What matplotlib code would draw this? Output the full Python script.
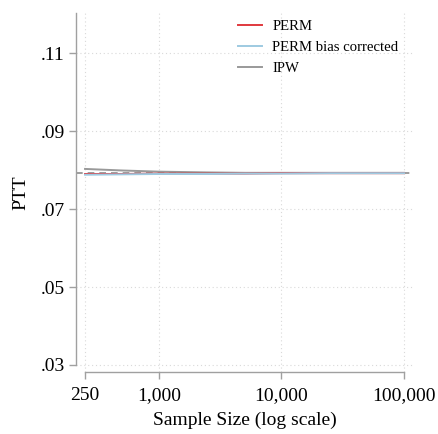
import matplotlib
matplotlib.use("Agg")
import matplotlib.pyplot as plt
from matplotlib.ticker import FixedLocator, FixedFormatter, NullLocator

plt.rcParams['font.family'] = ['Liberation Serif', 'DejaVu Serif']

sample_sizes = [250, 500, 1000, 2500, 5000, 10000, 25000, 50000, 100000]
perm = [0.0790, 0.0790, 0.0791, 0.0791, 0.0791, 0.0792, 0.0792, 0.0792, 0.0792]
perm_bc = [0.0788, 0.0789, 0.0790, 0.0790, 0.0791, 0.0791, 0.0792, 0.0792, 0.0792]
ipw = [0.0803, 0.0799, 0.0796, 0.0794, 0.0793, 0.0793, 0.0793, 0.0793, 0.0793]
true_value = 0.0793

x_ticks = [250, 1000, 10000, 100000]
x_labels = ["250", "1,000", "10,000", "100,000"]
y_ticks = [0.03, 0.05, 0.07, 0.09, 0.11]
y_labels = [".03", ".05", ".07", ".09", ".11"]

fig = plt.figure(figsize=(4.38, 4.34), dpi=100)
W, H = 438, 434
ax = fig.add_axes([76 / W, (H - 372) / H, (413 - 76) / W, (372 - 13) / H])

ax.set_xscale('log')
ax.set_xlim(211, 118300)
ax.set_ylim(0.0282, 0.1203)

grid_kw = dict(color='#d9d9d9', linestyle=(0, (1, 2.5)), linewidth=0.8, zorder=0)
for xv in x_ticks:
    ax.axvline(xv, **grid_kw)
for yv in y_ticks:
    ax.axhline(yv, **grid_kw)

ax.axhline(true_value, color='#8c8c8c', linestyle=(0, (4, 3)), linewidth=1.2, zorder=1)
ax.plot(sample_sizes, ipw, color='#999999', linewidth=1.4, label='IPW', zorder=2)
ax.plot(sample_sizes, perm_bc, color='#9ecae1', linewidth=1.4, label='PERM bias corrected', zorder=3)
ax.plot(sample_sizes, perm, color='#e0393e', linewidth=1.4, label='PERM', zorder=2.5)

for s in ['top', 'right']:
    ax.spines[s].set_visible(False)
for s in ['left', 'bottom']:
    ax.spines[s].set_color('#a0a0a0')
    ax.spines[s].set_linewidth(1.0)
ax.spines['left'].set_bounds(0.03, 0.1203)
ax.spines['bottom'].set_bounds(250, 100000)

ax.xaxis.set_major_locator(FixedLocator(x_ticks))
ax.xaxis.set_major_formatter(FixedFormatter(x_labels))
ax.xaxis.set_minor_locator(NullLocator())
ax.yaxis.set_major_locator(FixedLocator(y_ticks))
ax.yaxis.set_major_formatter(FixedFormatter(y_labels))
ax.tick_params(axis='both', which='major', direction='out', length=5, width=1.0,
               color='#a0a0a0', labelsize=14, labelcolor='black', pad=3)
ax.tick_params(axis='x', pad=6)

ax.set_xlabel('Sample Size (log scale)', fontsize=14, labelpad=5)
ax.set_ylabel('PTT', fontsize=14, labelpad=8)

handles, labels = ax.get_legend_handles_labels()
order = [2, 1, 0]
ax.legend([handles[i] for i in order], [labels[i] for i in order],
          loc='upper left', bbox_to_anchor=((229.5 - 76) / (413 - 76), 1.005), frameon=False,
          fontsize=10.6, handlelength=1.6, handletextpad=0.7, labelspacing=0.5,
          borderaxespad=0.2)

fig.savefig('out.png', dpi=100)
